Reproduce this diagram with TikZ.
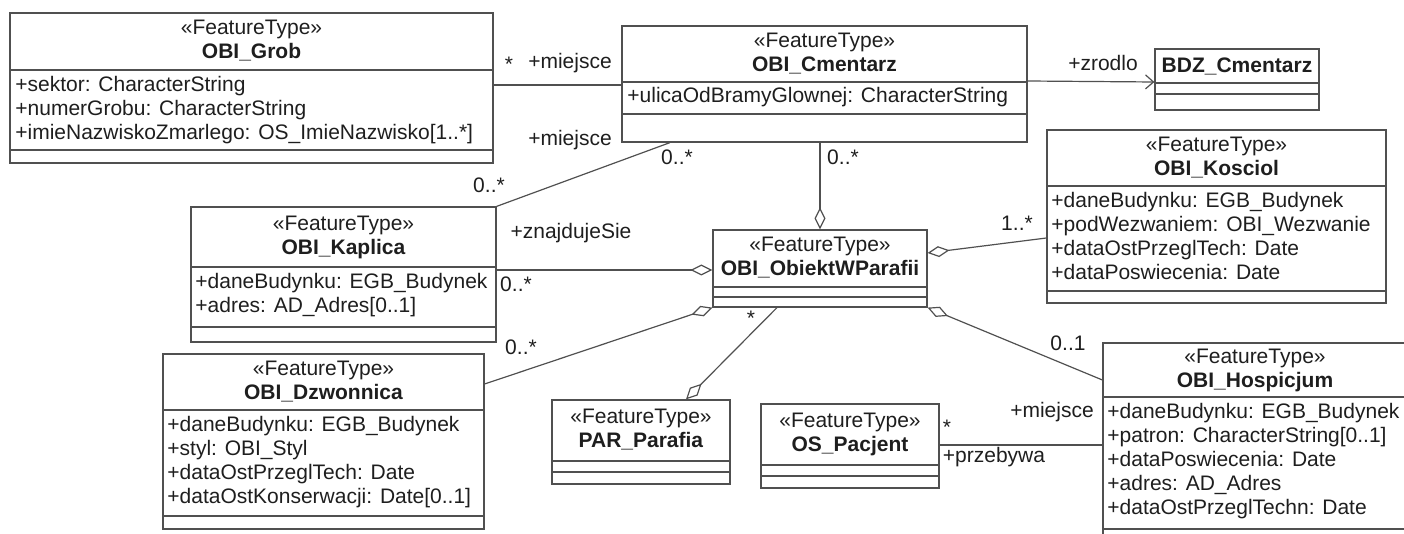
\documentclass[tikz,border=0pt]{standalone}
\usepackage{fontspec}
\setmainfont{Liberation Sans}
\usetikzlibrary{positioning,fit,arrows.meta}
\definecolor{linecolor}{RGB}{80,80,80}
\definecolor{textcolor}{RGB}{30,30,30}

\begin{document}
\begin{tikzpicture}[
    x=0.5pt, y=-0.5pt,
    every node/.style={font=\fontsize{10.5pt}{12pt}\selectfont, text=textcolor},
    classbox/.style={draw=linecolor, line width=0.6pt, inner sep=0pt, fit={#1}},
    sep/.style={draw=linecolor, line width=0.6pt},
    head/.style={align=center, inner sep=0pt},
    attrs/.style={anchor=north west, align=left, inner sep=0pt},
    lbl/.style={inner sep=0pt},
    assoc/.style={draw=linecolor, line width=0.6pt},
    aggr/.style={assoc, -{Diamond[open, length=11pt, width=5.5pt]}},
    nav/.style={assoc, -{Straight Barb[length=4pt, width=7pt]}}
]
    \clip (0,0) rectangle (1404,534);

    % OBI_Grob
    \node[classbox={(10,13) (493,163)}] (grob) {};
    \draw[sep] (grob.west |- 0,70) -- (grob.east |- 0,70);
    \draw[sep] (grob.west |- 0,150) -- (grob.east |- 0,150);
    \node[head] (grob-h) at (grob.north |- 0,41) {«FeatureType»\\\textbf{OBI\_Grob}};
    \node[attrs] (grob-a) at (15,76) {+sektor: CharacterString\\+numerGrobu: CharacterString\\+imieNazwiskoZmarlego: OS\_ImieNazwisko[1..*]};

    % OBI_Cmentarz
    \node[classbox={(622,26) (1027,142)}] (cmentarz) {};
    \draw[sep] (cmentarz.west |- 0,82) -- (cmentarz.east |- 0,82);
    \draw[sep] (cmentarz.west |- 0,114) -- (cmentarz.east |- 0,114);
    \node[head] (cmentarz-h) at (cmentarz.north |- 0,54) {«FeatureType»\\\textbf{OBI\_Cmentarz}};
    \node[attrs] (cmentarz-a) at (627,87) {+ulicaOdBramyGlownej: CharacterString};

    % BDZ_Cmentarz
    \node[classbox={(1155,49) (1319,110)}] (bdz) {};
    \draw[sep] (bdz.west |- 0,83) -- (bdz.east |- 0,83);
    \draw[sep] (bdz.west |- 0,94) -- (bdz.east |- 0,94);
    \node[head] (bdz-h) at (bdz.north |- 0,66) {\textbf{BDZ\_Cmentarz}};

    % OBI_Kosciol
    \node[classbox={(1047,130) (1386,303)}] (kosciol) {};
    \draw[sep] (kosciol.west |- 0,186) -- (kosciol.east |- 0,186);
    \draw[sep] (kosciol.west |- 0,291) -- (kosciol.east |- 0,291);
    \node[head] (kosciol-h) at (kosciol.north |- 0,158) {«FeatureType»\\\textbf{OBI\_Kosciol}};
    \node[attrs] (kosciol-a) at (1051,192) {+daneBudynku: EGB\_Budynek\\+podWezwaniem: OBI\_Wezwanie\\+dataOstPrzeglTech: Date\\+dataPoswiecenia: Date};

    % OBI_Kaplica
    \node[classbox={(191,207) (496,342)}] (kaplica) {};
    \draw[sep] (kaplica.west |- 0,267) -- (kaplica.east |- 0,267);
    \draw[sep] (kaplica.west |- 0,327) -- (kaplica.east |- 0,327);
    \node[head] (kaplica-h) at (kaplica.north |- 0,237) {«FeatureType»\\\textbf{OBI\_Kaplica}};
    \node[attrs] (kaplica-a) at (195,273) {+daneBudynku: EGB\_Budynek\\+adres: AD\_Adres[0..1]};

    % OBI_ObiektWParafii
    \node[classbox={(713,230) (927,307)}] (obiekt) {};
    \draw[sep] (obiekt.west |- 0,287) -- (obiekt.east |- 0,287);
    \draw[sep] (obiekt.west |- 0,297) -- (obiekt.east |- 0,297);
    \node[head] (obiekt-h) at (obiekt.north |- 0,258) {«FeatureType»\\\textbf{OBI\_ObiektWParafii}};

    % OBI_Dzwonnica
    \node[classbox={(163,354) (484,529)}] (dzwonnica) {};
    \draw[sep] (dzwonnica.west |- 0,410) -- (dzwonnica.east |- 0,410);
    \draw[sep] (dzwonnica.west |- 0,516) -- (dzwonnica.east |- 0,516);
    \node[head] (dzwonnica-h) at (dzwonnica.north |- 0,382) {«FeatureType»\\\textbf{OBI\_Dzwonnica}};
    \node[attrs] (dzwonnica-a) at (167,416) {+daneBudynku: EGB\_Budynek\\+styl: OBI\_Styl\\+dataOstPrzeglTech: Date\\+dataOstKonserwacji: Date[0..1]};

    % PAR_Parafia
    \node[classbox={(552,400) (730,484)}] (parafia) {};
    \draw[sep] (parafia.west |- 0,461) -- (parafia.east |- 0,461);
    \draw[sep] (parafia.west |- 0,472) -- (parafia.east |- 0,472);
    \node[head] (parafia-h) at (parafia.north |- 0,430) {«FeatureType»\\\textbf{PAR\_Parafia}};

    % OS_Pacjent
    \node[classbox={(761,404) (939,488)}] (pacjent) {};
    \draw[sep] (pacjent.west |- 0,465) -- (pacjent.east |- 0,465);
    \draw[sep] (pacjent.west |- 0,476) -- (pacjent.east |- 0,476);
    \node[head] (pacjent-h) at (pacjent.north |- 0,434) {«FeatureType»\\\textbf{OS\_Pacjent}};

    % OBI_Hospicjum
    \node[classbox={(1103,343) (1407,545)}] (hospicjum) {};
    \draw[sep] (hospicjum.west |- 0,397) -- (hospicjum.east |- 0,397);
    \draw[sep] (hospicjum.west |- 0,529) -- (hospicjum.east |- 0,529);
    \node[head] (hospicjum-h) at (hospicjum.north |- 0,370) {«FeatureType»\\\textbf{OBI\_Hospicjum}};
    \node[attrs] (hospicjum-a) at (1107,403) {+daneBudynku: EGB\_Budynek\\+patron: CharacterString[0..1]\\+dataPoswiecenia: Date\\+adres: AD\_Adres\\+dataOstPrzeglTechn: Date};

    % Associations
    \draw[assoc] (grob.east |- 0,85) -- (cmentarz.west |- 0,85);
    \draw[nav] (cmentarz.east |- 0,81) -- (bdz.west |- 0,82);
    \draw[assoc] (kaplica.north east) -- (cmentarz.south -| 670,0);
    \draw[aggr] (cmentarz.south -| obiekt.north) -- (obiekt.north);
    \draw[aggr] (kosciol.west |- 0,238) -- (obiekt.east |- 0,253);
    \draw[aggr] (kaplica.east |- 0,270) -- (obiekt.west |- 0,270);
    \draw[aggr] (dzwonnica.east |- 0,384) -- (obiekt.south west);
    \draw[aggr] (hospicjum.west |- 0,380) -- (obiekt.south east);
    \draw[aggr] (obiekt.south -| 777,0) -- (parafia.north -| 686,0);
    \draw[assoc] (pacjent.east |- 0,445) -- (hospicjum.west |- 0,445);

    % Roles and multiplicities
    \node[lbl] (m-grob) at (509,64) {*};
    \node[lbl] (r-grob) at (570,63) {+miejsce};
    \node[lbl] (r-kaplica) at (570,140) {+miejsce};
    \node[lbl] (m-cm1) at (677,157) {0..*};
    \node[lbl] (m-cm2) at (843,157) {0..*};
    \node[lbl] (r-zrodlo) at (1103,63) {+zrodlo};
    \node[lbl] (m-kaplica1) at (489,185) {0..*};
    \node[lbl] (r-znajduje) at (571,233) {+znajdujeSie};
    \node[lbl] (m-kaplica2) at (516,284) {0..*};
    \node[lbl] (m-kosciol) at (1017,223) {1..*};
    \node[lbl] (m-dzwonnica) at (521,347) {0..*};
    \node[lbl] (m-parafia) at (751,318) {*};
    \node[lbl] (m-hospicjum) at (1068,343) {0..1};
    \node[lbl] (m-pacjent) at (947,427) {*};
    \node[lbl] (r-miejsce) at (1052,412) {+miejsce};
    \node[lbl] (r-przebywa) at (994,457) {+przebywa};
\end{tikzpicture}
\end{document}
